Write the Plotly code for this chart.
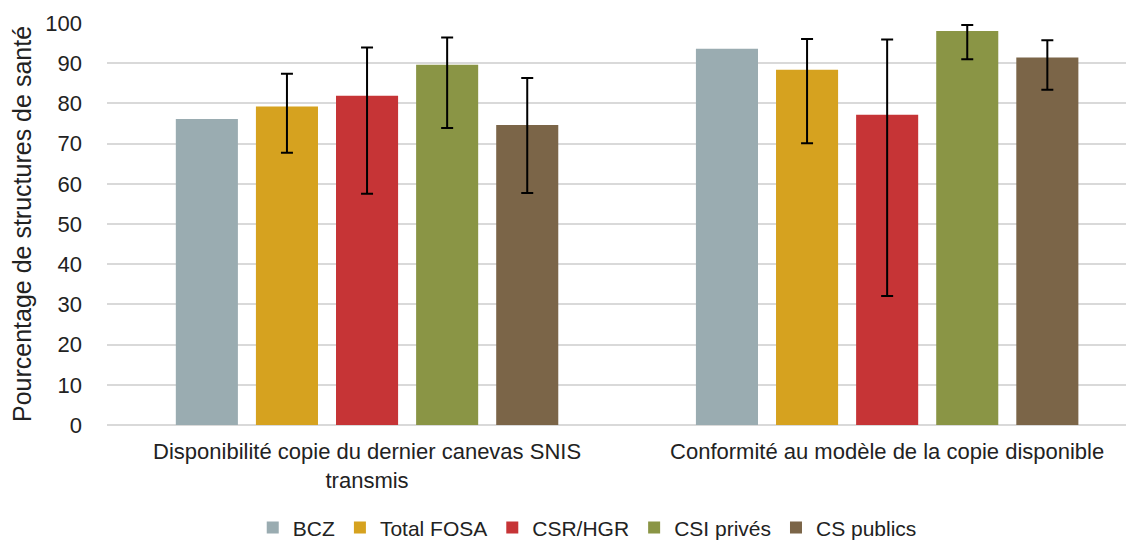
import plotly.graph_objects as go

categories = ["Disponibilité copie du dernier canevas SNIS<br>transmis",
              "Conformité au modèle de la copie disponible"]
series_names = ["BCZ", "Total FOSA", "CSR/HGR", "CSI privés", "CS publics"]
values = {
    "BCZ": [76.1, 93.6],
    "Total FOSA": [79.2, 88.4],
    "CSR/HGR": [81.9, 77.2],
    "CSI privés": [89.6, 98.0],
    "CS publics": [74.6, 91.4],
}
err_upper = {
    "BCZ": None,
    "Total FOSA": [87.4, 96.0],
    "CSR/HGR": [93.9, 95.9],
    "CSI privés": [96.4, 99.5],
    "CS publics": [86.3, 95.7],
}
err_lower = {
    "BCZ": None,
    "Total FOSA": [67.7, 70.1],
    "CSR/HGR": [57.5, 32.1],
    "CSI privés": [73.9, 91.0],
    "CS publics": [57.7, 83.4],
}
colors = {
    "BCZ": "#9AACB1",
    "Total FOSA": "#D6A21F",
    "CSR/HGR": "#C63436",
    "CSI privés": "#8A9545",
    "CS publics": "#7B6548",
}

fig = go.Figure()
for name in series_names:
    v = values[name]
    kw = {}
    if err_upper[name] is not None:
        kw["error_y"] = dict(
            type="data", symmetric=False,
            array=[u - b for u, b in zip(err_upper[name], v)],
            arrayminus=[b - l for l, b in zip(err_lower[name], v)],
            color="black", thickness=2, width=6,
        )
    fig.add_trace(go.Bar(
        name=name, x=[0, 1], y=v,
        marker=dict(color=colors[name], line=dict(width=0)),
        **kw,
    ))

fig.update_layout(
    width=1134, height=560,
    paper_bgcolor="white", plot_bgcolor="white",
    margin=dict(l=99, r=0, t=15, b=143),
    barmode="group", bargap=0.23, bargroupgap=0.225,
    font=dict(family="Liberation Sans", color="#222222"),
    showlegend=True,
    legend=dict(orientation="h", x=0.464, xanchor="center", y=-0.256, yanchor="middle",
                font=dict(size=21, family="Liberation Sans", color="#222222"),
                itemwidth=30, traceorder="normal"),
)
fig.update_xaxes(
    tickmode="array", tickvals=[0, 1], ticktext=categories,
    range=[-0.5, 1.490], showgrid=False, zeroline=False,
    showline=False, ticks="", automargin=False,
    ticklabelstandoff=11,
    tickfont=dict(size=22, family="Liberation Sans", color="#222222"),
)
fig.update_yaxes(
    range=[0, 100], dtick=10, showgrid=True, gridcolor="#D9D9D9", gridwidth=1.5,
    zeroline=True, zerolinecolor="#D9D9D9", zerolinewidth=1.5,
    automargin=False,
    tickfont=dict(size=22, family="Liberation Sans", color="#222222"),
    ticklabelstandoff=24,
    title=dict(text="Pourcentage de structures de santé", standoff=9,
               font=dict(size=25, family="Liberation Sans", color="#222222")),
)

fig.write_html("out.html")
